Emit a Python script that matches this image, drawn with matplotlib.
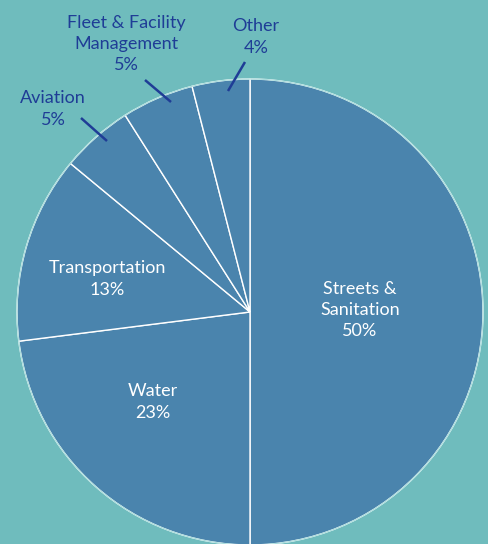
import matplotlib
matplotlib.use("Agg")
import matplotlib.pyplot as plt

# shares of the budget, clockwise from 12 o'clock
categories = ["Streets &\nSanitation", "Water", "Transportation", "Aviation",
              "Fleet & Facility\nManagement", "Other"]
shares = [50, 23, 13, 5, 5, 4]

W, H = 488, 544
BG = "#6fbcbd"
SLICE = "#4a84ad"
NAVY = "#1f3d96"

plt.rcParams["font.family"] = ["Lato", "DejaVu Sans"]

fig = plt.figure(figsize=(W / 100, H / 100), dpi=100, facecolor=BG)
ax = fig.add_axes([0, 0, 1, 1])
ax.set_facecolor(BG)

cx, cy, r = 250, H - 312, 233
wedges, _ = ax.pie(shares, startangle=90, counterclock=False,
                   colors=[SLICE] * len(shares), center=(cx, cy), radius=r,
                   frame=True,
                   wedgeprops=dict(edgecolor="white", linewidth=1.0))
# light outer rim
circle = plt.Circle((cx, cy), r, fill=False, edgecolor="#a9dcdc", linewidth=0.8)
ax.add_patch(circle)

ax.set_xlim(0, W)
ax.set_ylim(0, H)
ax.set_aspect("equal")
ax.axis("off")

# label positions in pixel coords (y from top), colour, leader line
layout = [
    ((360, 310), "white", None),
    ((153, 402), "white", None),
    ((107, 279), "white", None),
    ((53, 109), NAVY, ((81, 118), (107, 141))),
    ((126, 44), NAVY, ((145, 80), (171, 102))),
    ((256, 37), NAVY, ((245, 62), (228, 91))),
]

for name, val, (pos, col, line) in zip(categories, shares, layout):
    ax.text(pos[0], H - pos[1], f"{name}\n{val}%", ha="center", va="center",
            color=col, fontsize=13, linespacing=1.4)
    if line is not None:
        (x0, y0), (x1, y1) = line
        ax.plot([x0, x1], [H - y0, H - y1], color=NAVY, linewidth=1.8,
                solid_capstyle="butt")

fig.savefig("out.png", dpi=100, facecolor=BG)
